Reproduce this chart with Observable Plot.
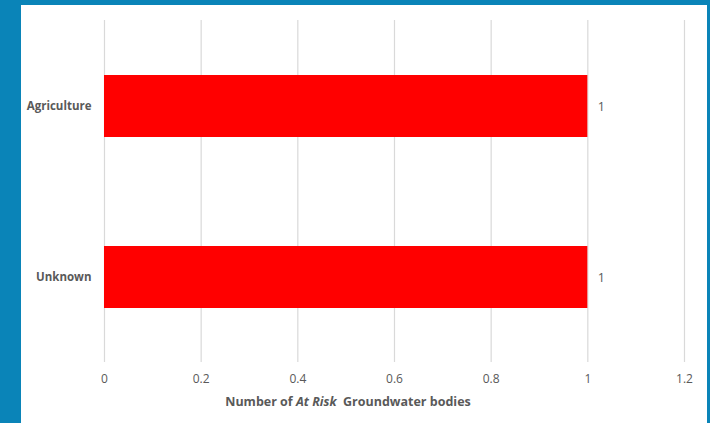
<!DOCTYPE html>
<html>
<head>
<meta charset="utf-8">
<script src="https://cdn.jsdelivr.net/npm/d3@7"></script>
<script src="https://cdn.jsdelivr.net/npm/@observablehq/plot@0.6"></script>
<style>
  html, body { margin: 0; padding: 0; }
  body { width: 710px; height: 423px; background: #0a84b8; position: relative; overflow: hidden; }
  #panel { position: absolute; left: 21px; top: 5px; width: 686px; height: 418px; background: #ffffff; }
  #chart { position: absolute; left: 0; top: 0; }
  #title { position: absolute; left: 0; width: 696px; top: 393px; text-align: center;
           font-family: "Open Sans", sans-serif; font-size: 12.5px; font-weight: bold; color: #595959; white-space: nowrap; }
</style>
</head>
<body>
<div id="panel"></div>
<div id="chart"></div>
<div id="title">Number of <i>At Risk</i>&nbsp; Groundwater bodies</div>
<script>
const categories = ["Agriculture", "Unknown"];
const values = [1, 1];
const xTicks = [0, 0.2, 0.4, 0.6, 0.8, 1, 1.2];
const xTickLabels = ["0", "0.2", "0.4", "0.6", "0.8", "1", "1.2"];

const data = categories.map((c, i) => ({category: c, value: values[i]}));

const chart = Plot.plot({
  width: 710,
  height: 423,
  marginLeft: 104,
  marginRight: 26,
  marginTop: 20,
  marginBottom: 61,
  style: {background: "transparent", fontFamily: "'Open Sans', sans-serif", color: "#595959"},
  x: {domain: [0, 1.2], label: null},
  y: {domain: categories, paddingInner: 0.64, paddingOuter: 0.32, label: null},
  marks: [
    Plot.ruleX(xTicks, {stroke: "#d9d9d9", strokeWidth: 1.2}),
    Plot.barX(data, {x: "value", y: "category", fill: "#ff0000"}),
    Plot.text(data, {x: "value", y: "category", text: d => String(d.value), textAnchor: "start", dx: 10,
      fill: "#595959", fontSize: 12.5}),
    Plot.axisX(xTicks, {tickSize: 0, tickPadding: 12, tickFormat: (d, i) => xTickLabels[i],
      fontSize: 12, fill: "#595959", label: null}),
    Plot.axisY({tickSize: 0, tickPadding: 13, fontSize: 11.5, fontWeight: "bold", fill: "#595959", label: null})
  ]
});
document.getElementById("chart").appendChild(chart);
</script>
</body>
</html>
